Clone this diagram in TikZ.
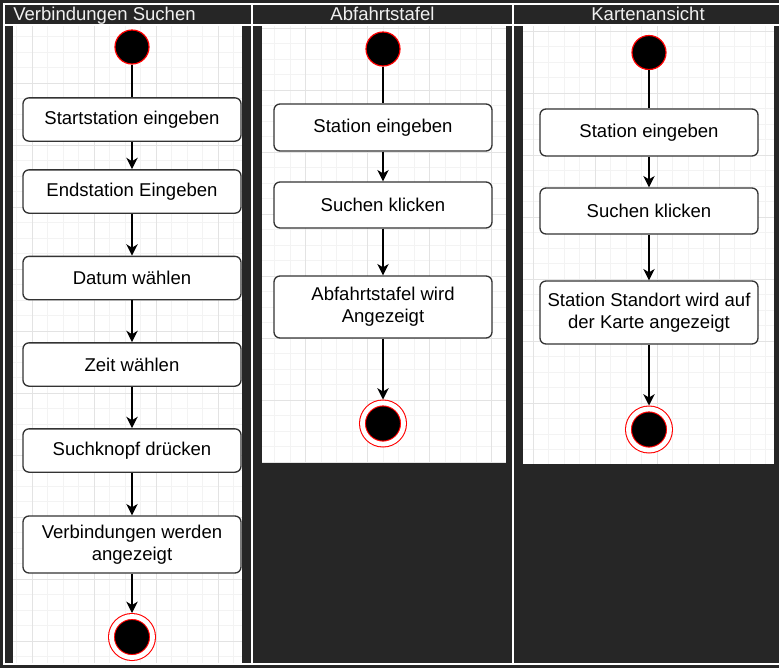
\documentclass[tikz,border=0pt]{standalone}
\usepackage{fontspec}
\setmainfont{Liberation Sans}
\usetikzlibrary{arrows.meta}
\definecolor{bg}{HTML}{262626}
\definecolor{gridminor}{HTML}{F3F3F3}
\definecolor{gridmajor}{HTML}{E3E3E3}
\definecolor{boxline}{HTML}{333333}
\definecolor{ringred}{HTML}{FF0000}
\definecolor{headtext}{HTML}{F0F0F0}

\begin{document}
\begin{tikzpicture}[x=0.75pt, y=-0.75pt,
        act/.style={draw=boxline, line width=1pt, rounded corners=4.5pt, fill=white, text=black,
            minimum width=163.5pt, minimum height=32.5pt, align=center, inner sep=2pt,
            font=\fontsize{13.9pt}{16.5pt}\selectfont},
        startdot/.style={circle, draw=ringred, fill=black, line width=0.9pt, minimum size=25.5pt, inner sep=0pt},
        enddot/.style={circle, draw=ringred, fill=black, line width=0.8pt, double=white,
            double distance=3.6pt, minimum size=30.8pt, inner sep=0pt, outer sep=2.6pt},
        flow/.style={line width=1.1pt, -{Stealth[length=8.5pt, width=8.5pt, inset=2.5pt]}},
        lanetitle/.style={text=headtext, inner sep=0pt, font=\fontsize{13.9pt}{16pt}\selectfont}]
        \useasboundingbox (0,0) rectangle (779,668);
        \fill[bg] (0,0) rectangle (779,668);

        % lanes
        \draw[white, line width=0.8pt] (779,4) -| (4,664) -- (779,664);
        \draw[white, line width=0.8pt] (4,25) -- (779,25);
        \draw[white, line width=0.8pt] (252,4) -- (252,664);
        \draw[white, line width=0.8pt] (513,4) -- (513,664);

        % white panels with grid
        \foreach \xa/\ya/\xb/\yb/\px/\py in {13/26/242/663/94/83, 262/26/506/463/305.7/90, 523/26/774/464/595/93} {
            \begin{scope}
                \fill[white] (\xa,\ya) rectangle (\xb,\yb);
                \clip (\xa,\ya) rectangle (\xb,\yb);
                \foreach \k in {-45,...,45} {
                    \draw[gridminor, line width=0.75pt] ({\px+15.5*\k},\ya) -- ({\px+15.5*\k},\yb);
                    \draw[gridminor, line width=0.75pt] (\xa,{\py+15.5*\k}) -- (\xb,{\py+15.5*\k});
                }
                \foreach \k in {-11,...,11} {
                    \draw[gridmajor, line width=0.75pt] ({\px+62*\k},\ya) -- ({\px+62*\k},\yb);
                    \draw[gridmajor, line width=0.75pt] (\xa,{\py+62*\k}) -- (\xb,{\py+62*\k});
                }
            \end{scope}
        }

        \node[lanetitle, anchor=base west] (t1) at (13,20.7) {Verbindungen Suchen};
        \node[lanetitle, anchor=base] (t2) at (382.5,20.7) {Abfahrtstafel};
        \node[lanetitle, anchor=base] (t3) at (648,20.7) {Kartenansicht};

        % Verbindungen Suchen
        \node[startdot] (s1) at (132,47) {};
        \node[act] (a1) at (132,119.5) {Startstation eingeben};
        \node[act] (a2) at (132,191.5) {Endstation Eingeben};
        \node[act] (a3) at (132,278) {Datum wählen};
        \node[act] (a4) at (132,364.5) {Zeit wählen};
        \node[act] (a5) at (132,450.5) {Suchknopf drücken};
        \node[act, minimum height=42.75pt] (a6) at (132,544.5) {Verbindungen werden\\angezeigt};
        \node[enddot] (e1) at (132,637) {};

        \draw[line width=1.1pt] (s1) -- (a1);
        \draw[flow] (a1) -- (a2);
        \draw[flow] (a2) -- (a3);
        \draw[flow] (a3) -- (a4);
        \draw[flow] (a4) -- (a5);
        \draw[flow] (a5) -- (a6);
        \draw[flow] (a6) -- (e1);

        % Abfahrtstafel
        \node[startdot] (s2) at (383,49) {};
        \node[act, minimum height=35.25pt] (b1) at (383,127.5) {Station eingeben};
        \node[act, minimum height=34.5pt] (b2) at (383,205) {Suchen klicken};
        \node[act, minimum height=46.5pt] (b3) at (383,307) {Abfahrtstafel wird\\Angezeigt};
        \node[enddot] (e2) at (383,423.5) {};

        \draw[line width=1.1pt] (s2) -- (b1);
        \draw[flow] (b1) -- (b2);
        \draw[flow] (b2) -- (b3);
        \draw[flow] (b3) -- (e2);

        % Kartenansicht
        \node[startdot] (s3) at (649,52.5) {};
        \node[act, minimum height=35.25pt] (c1) at (649,132.5) {Station eingeben};
        \node[act, minimum height=34.5pt] (c2) at (649,211) {Suchen klicken};
        \node[act, minimum height=47.25pt] (c3) at (649,312.5) {Station Standort wird auf\\der Karte angezeigt};
        \node[enddot] (e3) at (649,429.5) {};

        \draw[line width=1.1pt] (s3) -- (c1);
        \draw[flow] (c1) -- (c2);
        \draw[flow] (c2) -- (c3);
        \draw[flow] (c3) -- (e3);
    \end{tikzpicture}
\end{document}
